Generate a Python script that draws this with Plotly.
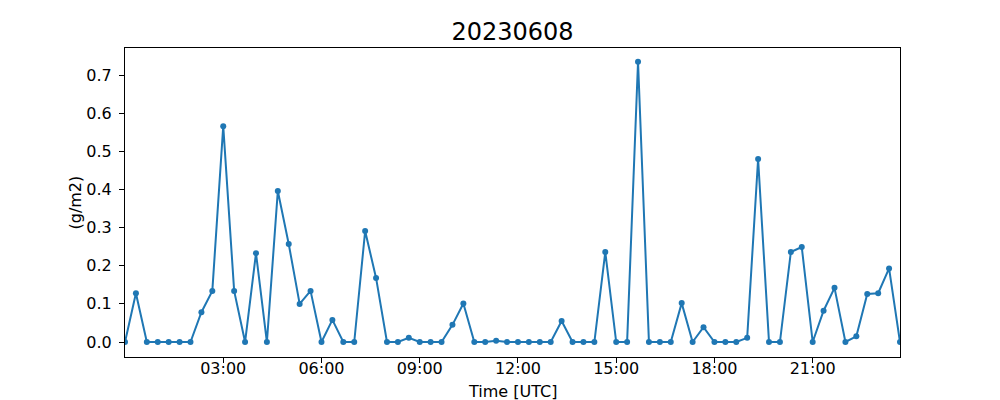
import plotly.graph_objects as go

times = [
    "00:00", "00:20", "00:40", "01:00", "01:20", "01:40", "02:00", "02:20", "02:40",
    "03:00", "03:20", "03:40", "04:00", "04:20", "04:40", "05:00", "05:20", "05:40",
    "06:00", "06:20", "06:40", "07:00", "07:20", "07:40", "08:00", "08:20", "08:40",
    "09:00", "09:20", "09:40", "10:00", "10:20", "10:40", "11:00", "11:20", "11:40",
    "12:00", "12:20", "12:40", "13:00", "13:20", "13:40", "14:00", "14:20", "14:40",
    "15:00", "15:20", "15:40", "16:00", "16:20", "16:40", "17:00", "17:20", "17:40",
    "18:00", "18:20", "18:40", "19:00", "19:20", "19:40", "20:00", "20:20", "20:40",
    "21:00", "21:20", "21:40", "22:00", "22:20", "22:40", "23:00", "23:20", "23:40",
]

values = [
    0.0, 0.128, 0.0, 0.0, 0.0, 0.0, 0.0, 0.078, 0.134,
    0.566, 0.134, 0.0, 0.233, 0.0, 0.396, 0.257, 0.100, 0.134,
    0.0, 0.058, 0.0, 0.0, 0.291, 0.168, 0.0, 0.0, 0.011,
    0.0, 0.0, 0.0, 0.045, 0.101, 0.0, 0.0, 0.003, 0.0,
    0.0, 0.0, 0.0, 0.0, 0.055, 0.0, 0.0, 0.0, 0.236,
    0.0, 0.0, 0.735, 0.0, 0.0, 0.0, 0.102, 0.0, 0.039,
    0.0, 0.0, 0.0, 0.011, 0.480, 0.0, 0.0, 0.236, 0.249,
    0.0, 0.082, 0.142, 0.0, 0.015, 0.126, 0.128, 0.193, 0.0,
]

date = "2023-06-08"
x = [f"{date} {t}" for t in times]

xtick_labels = ["03:00", "06:00", "09:00", "12:00", "15:00", "18:00", "21:00"]
ytick_vals = [0.0, 0.1, 0.2, 0.3, 0.4, 0.5, 0.6, 0.7]
ytick_text = ["0.0", "0.1", "0.2", "0.3", "0.4", "0.5", "0.6", "0.7"]

fig = go.Figure()
fig.add_trace(go.Scatter(
    x=x, y=values, mode="lines+markers",
    line=dict(color="#1f77b4", width=2),
    marker=dict(color="#1f77b4", size=6),
    showlegend=False,
))

font = "DejaVu Sans"
fig.update_layout(
    width=1000, height=400,
    paper_bgcolor="white", plot_bgcolor="white",
    margin=dict(l=125, r=100, t=48, b=43),
    font=dict(family=font, color="black", size=16),
    title=dict(text="20230608", x=0.5, xanchor="center", xref="paper",
               y=(400 - 32) / 400, yref="container", yanchor="middle",
               font=dict(family=font, size=24, color="black")),
    annotations=[
        dict(text="Time [UTC]", xref="paper", yref="paper", x=0.5, y=-(391 - 357) / 309,
             xanchor="center", yanchor="middle", showarrow=False,
             font=dict(family=font, size=16, color="black")),
        dict(text="(g/m2)", xref="paper", yref="paper", x=-(125 - 75) / 775, y=0.5,
             xanchor="center", yanchor="middle", showarrow=False, textangle=-90,
             font=dict(family=font, size=16, color="black")),
    ],
)
fig.update_xaxes(
    range=[x[0], x[-1]],
    tickvals=[f"{date} {t}" for t in xtick_labels], ticktext=xtick_labels,
    ticks="outside", ticklen=5, tickwidth=1, tickcolor="black",
    showline=True, linecolor="black", linewidth=1, mirror=True,
    showgrid=False, zeroline=False, automargin=False,
    tickfont=dict(size=16), ticklabelstandoff=-8,
)
fig.update_yaxes(
    range=[-0.0393, 0.771],
    tickvals=ytick_vals, ticktext=ytick_text,
    ticks="outside", ticklen=5, tickwidth=1, tickcolor="black",
    showline=True, linecolor="black", linewidth=1, mirror=True,
    showgrid=False, zeroline=False, automargin=False,
    tickfont=dict(size=16), ticklabelstandoff=4,
)

fig.write_html("out.html", config={"displayModeBar": False},
               post_script="document.body.style.margin='0';")
